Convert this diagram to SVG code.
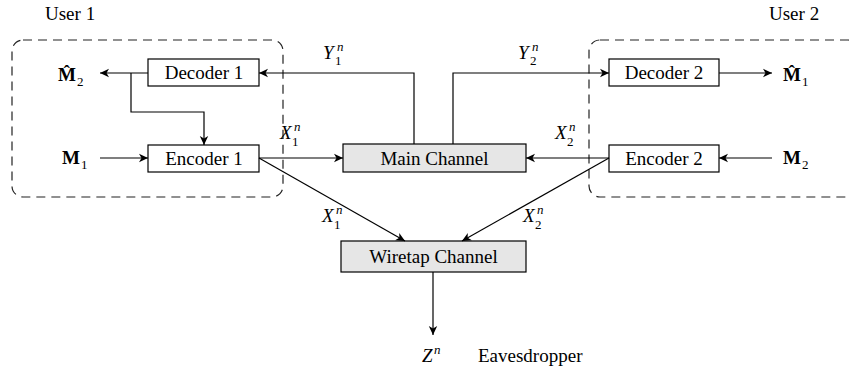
<svg xmlns="http://www.w3.org/2000/svg" width="849" height="371" viewBox="0 0 849 371">
<defs>
<marker id="arr" markerUnits="userSpaceOnUse" markerWidth="12" markerHeight="12" viewBox="-10 -6 12 12" refX="0" refY="0" orient="auto">
<path d="M0,0 L-9,-4.2 L-6.5,0 L-9,4.2 Z" fill="#000"/>
</marker>
</defs>
<style>
text{font-family:"Liberation Serif","Times New Roman",serif;fill:#000}
.t{font-size:19px}
.c{text-anchor:middle}
.i{font-style:italic}
.s{font-size:13px}
.b{font-weight:bold;font-size:19px}
.box{fill:#fff;stroke:#000;stroke-width:1.2}
.ch{fill:#e6e6e6;stroke:#000;stroke-width:1.2}
.dash{fill:none;stroke:#222;stroke-width:1.2;stroke-dasharray:9 6}
.ln{fill:none;stroke:#000;stroke-width:1.2}
</style>

<g id="user1">
<rect class="dash" x="12" y="40" width="271" height="157" rx="11"/>
<text class="t" x="45" y="20">User 1</text>
</g>
<g id="user2">
<rect class="dash" x="589" y="40" width="270" height="157" rx="11"/>
<text class="t" x="769" y="20">User 2</text>
</g>

<g id="decoder1">
<rect class="box" x="148" y="59" width="111" height="27"/>
<text class="t c" x="204" y="79">Decoder 1</text>
</g>
<g id="encoder1">
<rect class="box" x="148" y="145" width="111" height="27"/>
<text class="t c" x="204" y="165">Encoder 1</text>
</g>
<g id="decoder2">
<rect class="box" x="609" y="59" width="110" height="27"/>
<text class="t c" x="664" y="79">Decoder 2</text>
</g>
<g id="encoder2">
<rect class="box" x="609" y="145" width="110" height="27"/>
<text class="t c" x="664" y="165">Encoder 2</text>
</g>
<g id="main">
<rect class="ch" x="343" y="144" width="183" height="28"/>
<text class="t c" x="434.5" y="165">Main Channel</text>
</g>
<g id="wiretap">
<rect class="ch" x="341" y="241" width="185" height="31"/>
<text class="t c" x="433.5" y="263">Wiretap Channel</text>
</g>

<g id="m2hat">
<text class="b" x="58" y="81">M&#x302;</text>
<text class="s" x="77" y="86">2</text>
</g>
<g id="m1">
<text class="b" x="62" y="164">M</text>
<text class="s" x="81" y="169">1</text>
</g>
<g id="m1hat">
<text class="b" x="783" y="81">M&#x302;</text>
<text class="s" x="802" y="86">1</text>
</g>
<g id="m2">
<text class="b" x="783" y="164">M</text>
<text class="s" x="802" y="169">2</text>
</g>
<g id="eve">
<text class="t i" x="422" y="362">Z</text>
<text class="s i" x="434" y="354">n</text>
<text class="t" x="478" y="362">Eavesdropper</text>
</g>

<g id="connectors">
<path class="ln" d="M148,73 H100" marker-end="url(#arr)"/>
<path class="ln" d="M131,73 V112 H204 V145" marker-end="url(#arr)"/>
<path class="ln" d="M100,158 H148" marker-end="url(#arr)"/>
<path class="ln" d="M259,158 H343" marker-end="url(#arr)"/>
<path class="ln" d="M609,158 H526" marker-end="url(#arr)"/>
<path class="ln" d="M414,144 V73 H259" marker-end="url(#arr)"/>
<path class="ln" d="M453,144 V73 H609" marker-end="url(#arr)"/>
<path class="ln" d="M719,73 H772" marker-end="url(#arr)"/>
<path class="ln" d="M772,158 H719" marker-end="url(#arr)"/>
<path class="ln" d="M259,158 L405,241" marker-end="url(#arr)"/>
<path class="ln" d="M609,158 L462,241" marker-end="url(#arr)"/>
<path class="ln" d="M433,272 V335" marker-end="url(#arr)"/>
</g>

<g id="labels">
<text class="t i" x="323" y="59">Y</text><text class="s i" x="337" y="51">n</text><text class="s" x="335" y="65">1</text>
<text class="t i" x="518" y="59">Y</text><text class="s i" x="532" y="51">n</text><text class="s" x="530" y="65">2</text>
<text class="t i" x="280" y="139">X</text><text class="s i" x="294" y="131">n</text><text class="s" x="292" y="146">1</text>
<text class="t i" x="555" y="139">X</text><text class="s i" x="569" y="131">n</text><text class="s" x="567" y="146">2</text>
<text class="t i" x="322" y="222">X</text><text class="s i" x="336" y="214">n</text><text class="s" x="334" y="229">1</text>
<text class="t i" x="523" y="222">X</text><text class="s i" x="537" y="214">n</text><text class="s" x="535" y="229">2</text>
</g>
</svg>
